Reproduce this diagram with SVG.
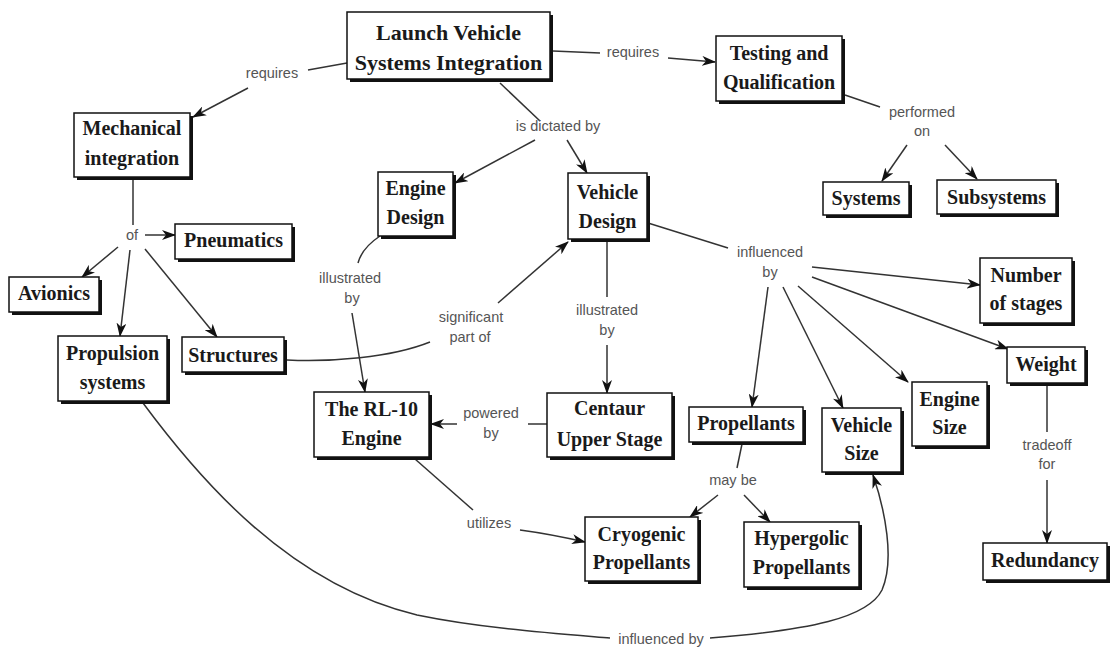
<svg xmlns="http://www.w3.org/2000/svg" width="1112" height="650" viewBox="0 0 1112 650">
<style>
.sh{fill:#111}
.bx{fill:#fff;stroke:#111;stroke-width:1.5}
.nt{font-family:"Liberation Serif","Times New Roman",serif;font-size:20px;font-weight:bold;fill:#1a1a1a;text-anchor:middle}
.big{font-size:22px}
.lb{font-family:"Liberation Sans",Arial,sans-serif;font-size:14.5px;fill:#555;text-anchor:middle}
.c{fill:none;stroke:#333;stroke-width:1.5}
.a{marker-end:url(#arr)}
</style>
<defs>
<marker id="arr" viewBox="0 0 14 10" refX="13" refY="5" markerWidth="14" markerHeight="10" markerUnits="userSpaceOnUse" orient="auto">
<path d="M0,0 L14,5 L0,10 L4,5 z" fill="#111"/>
</marker>
</defs>
<g id="connectors">
<path class="c" d="M347,63 L308,70"/>
<path class="c a" d="M248,88 L193,117"/>
<path class="c" d="M553,51 L600,53"/>
<path class="c a" d="M668,58 L715,62"/>
<path class="c" d="M500,83 L540,121"/>
<path class="c a" d="M535,140 L455,183"/>
<path class="c a" d="M567,140 L587,173"/>
<path class="c" d="M845,95 L880,107"/>
<path class="c a" d="M907,145 L882,181"/>
<path class="c a" d="M945,145 L977,179"/>
<path class="c" d="M133,178 L133,225"/>
<path class="c a" d="M145,235 L175,235"/>
<path class="c a" d="M118,247 L82,277"/>
<path class="c a" d="M130,250 L120,336"/>
<path class="c a" d="M145,249 L217,337"/>
<path class="c" d="M380,236 Q362,248 358,263"/>
<path class="c a" d="M352,313 Q358,350 365,392"/>
<path class="c" d="M607,240 L607,297"/>
<path class="c a" d="M607,345 L607,393"/>
<path class="c" d="M287,360 C330,362 390,358 430,342"/>
<path class="c a" d="M498,303 L568,242"/>
<path class="c" d="M547,424 L528,424"/>
<path class="c a" d="M457,424 L431,424"/>
<path class="c" d="M415,459 L473,510"/>
<path class="c a" d="M520,530 Q550,534 585,542"/>
<path class="c" d="M648,223 L728,248"/>
<path class="c a" d="M768,287 L752,407"/>
<path class="c a" d="M783,287 L843,408"/>
<path class="c a" d="M798,286 L908,382"/>
<path class="c a" d="M812,277 L1008,349"/>
<path class="c a" d="M812,267 L980,285"/>
<path class="c" d="M742,444 L737,468"/>
<path class="c a" d="M718,495 L690,517"/>
<path class="c a" d="M744,495 L770,522"/>
<path class="c" d="M1047,384 L1047,432"/>
<path class="c a" d="M1047,480 L1047,543"/>
<path class="c" d="M143,403 C200,480 290,585 417,615 C480,628 550,633 610,638"/>
<path class="c a" d="M710,638 C810,630 868,618 882,590 C895,560 885,510 873,475"/>
<text class="lb" x="272" y="78">requires</text>
<text class="lb" x="633" y="57">requires</text>
<text class="lb" x="558" y="131">is dictated by</text>
<text class="lb" x="922" y="117">performed</text>
<text class="lb" x="922" y="136">on</text>
<text class="lb" x="132" y="240">of</text>
<text class="lb" x="350" y="283">illustrated</text>
<text class="lb" x="352" y="303">by</text>
<text class="lb" x="607" y="315">illustrated</text>
<text class="lb" x="607" y="335">by</text>
<text class="lb" x="471" y="322">significant</text>
<text class="lb" x="470" y="342">part of</text>
<text class="lb" x="491" y="418">powered</text>
<text class="lb" x="491" y="438">by</text>
<text class="lb" x="489" y="528">utilizes</text>
<text class="lb" x="770" y="257">influenced</text>
<text class="lb" x="770" y="277">by</text>
<text class="lb" x="733" y="485">may be</text>
<text class="lb" x="1047" y="450">tradeoff</text>
<text class="lb" x="1047" y="469">for</text>
<text class="lb" x="661" y="644">influenced by</text>
</g>
<g id="n-lvsi"><rect class="sh" x="350" y="15" width="203" height="67"/><rect class="bx" x="347" y="12" width="203" height="67"/><text class="nt big" x="448.5" y="40">Launch Vehicle</text><text class="nt big" x="448.5" y="70">Systems Integration</text></g>
<g id="n-testing"><rect class="sh" x="719" y="39" width="126" height="65"/><rect class="bx" x="716" y="36" width="126" height="65"/><text class="nt" x="779" y="60">Testing and</text><text class="nt" x="779" y="89">Qualification</text></g>
<g id="n-systems"><rect class="sh" x="826" y="185" width="86" height="33"/><rect class="bx" x="823" y="182" width="86" height="33"/><text class="nt" x="866" y="205">Systems</text></g>
<g id="n-subsystems"><rect class="sh" x="940" y="183" width="119" height="34"/><rect class="bx" x="937" y="180" width="119" height="34"/><text class="nt" x="996.5" y="204">Subsystems</text></g>
<g id="n-mechanical"><rect class="sh" x="77" y="116" width="116" height="64"/><rect class="bx" x="74" y="113" width="116" height="64"/><text class="nt" x="132" y="135">Mechanical</text><text class="nt" x="132" y="165">integration</text></g>
<g id="n-engine-design"><rect class="sh" x="381" y="175" width="75" height="64"/><rect class="bx" x="378" y="172" width="75" height="64"/><text class="nt" x="415.5" y="195">Engine</text><text class="nt" x="415.5" y="224">Design</text></g>
<g id="n-vehicle-design"><rect class="sh" x="571" y="176" width="79" height="66"/><rect class="bx" x="568" y="173" width="79" height="66"/><text class="nt" x="607.5" y="199">Vehicle</text><text class="nt" x="607.5" y="228">Design</text></g>
<g id="n-pneumatics"><rect class="sh" x="178" y="227" width="117" height="35"/><rect class="bx" x="175" y="224" width="117" height="35"/><text class="nt" x="233.5" y="247">Pneumatics</text></g>
<g id="n-avionics"><rect class="sh" x="12" y="280" width="90" height="35"/><rect class="bx" x="9" y="277" width="90" height="35"/><text class="nt" x="54" y="300">Avionics</text></g>
<g id="n-propulsion"><rect class="sh" x="61" y="339" width="109" height="65"/><rect class="bx" x="58" y="336" width="109" height="65"/><text class="nt" x="112.5" y="360">Propulsion</text><text class="nt" x="112.5" y="389">systems</text></g>
<g id="n-structures"><rect class="sh" x="185" y="340" width="102" height="35"/><rect class="bx" x="182" y="337" width="102" height="35"/><text class="nt" x="233" y="362">Structures</text></g>
<g id="n-rl10"><rect class="sh" x="317" y="395" width="115" height="65"/><rect class="bx" x="314" y="392" width="115" height="65"/><text class="nt" x="371.5" y="416">The RL-10</text><text class="nt" x="371.5" y="445">Engine</text></g>
<g id="n-centaur"><rect class="sh" x="550" y="396" width="125" height="64"/><rect class="bx" x="547" y="393" width="125" height="64"/><text class="nt" x="609.5" y="415">Centaur</text><text class="nt" x="609.5" y="446">Upper Stage</text></g>
<g id="n-propellants"><rect class="sh" x="692" y="410" width="114" height="35"/><rect class="bx" x="689" y="407" width="114" height="35"/><text class="nt" x="746" y="430">Propellants</text></g>
<g id="n-vehicle-size"><rect class="sh" x="825" y="411" width="79" height="64"/><rect class="bx" x="822" y="408" width="79" height="64"/><text class="nt" x="861.5" y="432">Vehicle</text><text class="nt" x="861.5" y="460">Size</text></g>
<g id="n-engine-size"><rect class="sh" x="915" y="385" width="75" height="64"/><rect class="bx" x="912" y="382" width="75" height="64"/><text class="nt" x="949.5" y="406">Engine</text><text class="nt" x="949.5" y="434">Size</text></g>
<g id="n-stages"><rect class="sh" x="983" y="261" width="92" height="65"/><rect class="bx" x="980" y="258" width="92" height="65"/><text class="nt" x="1026" y="282">Number</text><text class="nt" x="1026" y="310">of stages</text></g>
<g id="n-weight"><rect class="sh" x="1010" y="350" width="78" height="36"/><rect class="bx" x="1007" y="347" width="78" height="36"/><text class="nt" x="1046" y="371">Weight</text></g>
<g id="n-cryogenic"><rect class="sh" x="588" y="520" width="113" height="64"/><rect class="bx" x="585" y="517" width="113" height="64"/><text class="nt" x="641.5" y="541">Cryogenic</text><text class="nt" x="641.5" y="569">Propellants</text></g>
<g id="n-hypergolic"><rect class="sh" x="747" y="525" width="115" height="65"/><rect class="bx" x="744" y="522" width="115" height="65"/><text class="nt" x="801.5" y="545">Hypergolic</text><text class="nt" x="801.5" y="574">Propellants</text></g>
<g id="n-redundancy"><rect class="sh" x="986" y="546" width="124" height="37"/><rect class="bx" x="983" y="543" width="124" height="37"/><text class="nt" x="1045" y="567">Redundancy</text></g>
</svg>
